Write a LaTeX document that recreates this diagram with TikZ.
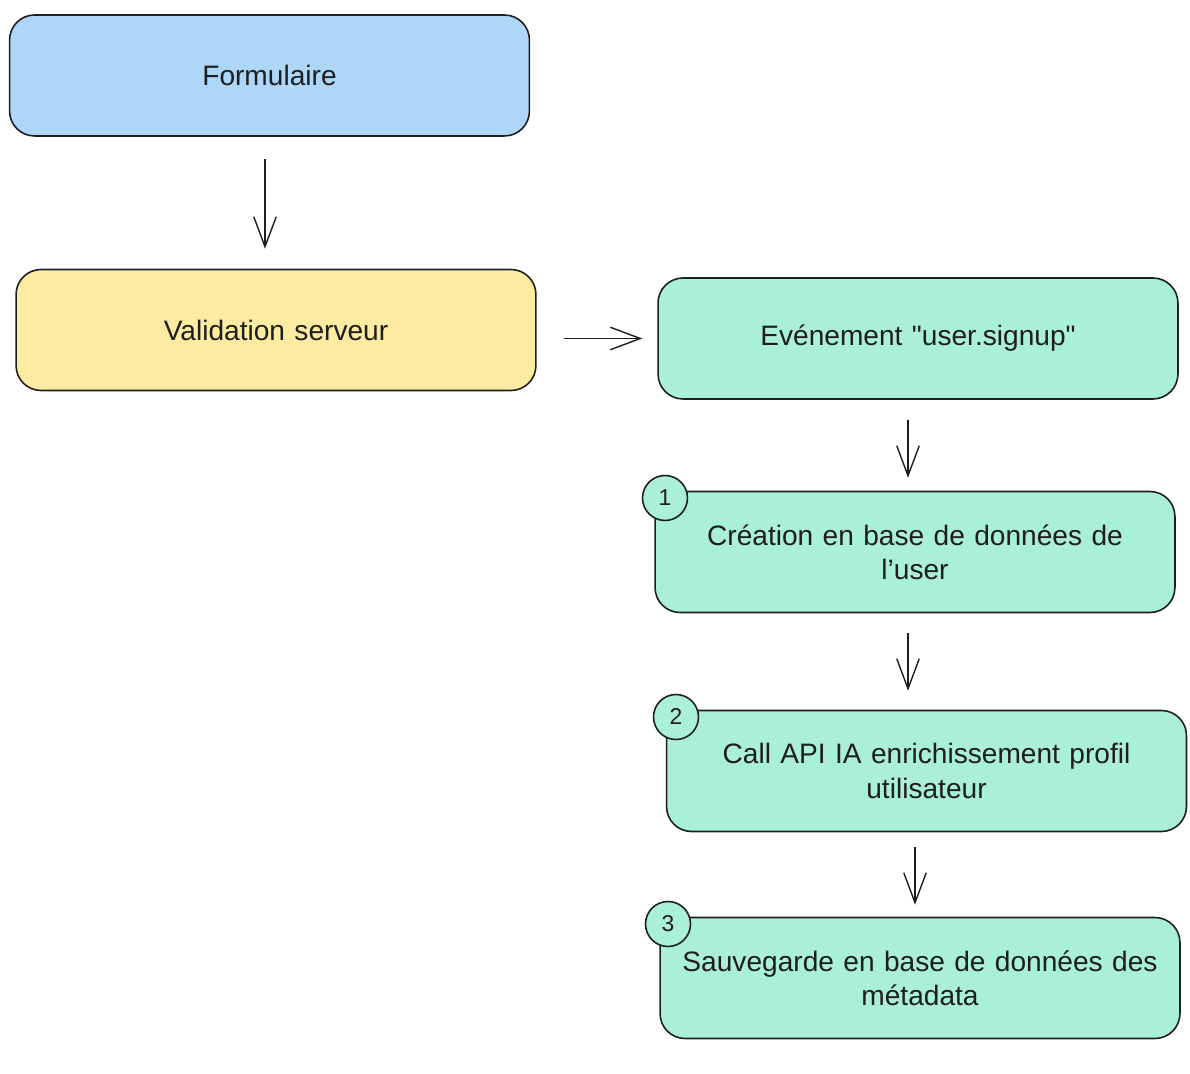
\documentclass[tikz,border=0pt]{standalone}
\usepackage{fontspec}
\setmainfont{Liberation Sans}
\usepackage{tikz}
\usetikzlibrary{arrows.meta}
\definecolor{formblue}{RGB}{174,214,249}
\definecolor{checkyellow}{RGB}{252,235,161}
\definecolor{stepgreen}{RGB}{170,240,216}
\definecolor{ink}{RGB}{30,30,30}
\tikzstyle{Box}=[rectangle, rounded corners=0.5cm, minimum width=10.4cm, minimum height=2.42cm, text width=10cm, align=center, draw=ink, line width=0.9pt, font=\fontsize{16}{19.5}\selectfont, text=ink]
\tikzstyle{Badge}=[circle, minimum size=0.9cm, inner sep=0pt, draw=ink, line width=0.9pt, fill=stepgreen, font=\fontsize{13}{15}\selectfont, text=ink]
\tikzstyle{Flow}=[draw=ink, line width=0.8pt, -{Straight Barb[length=0.6cm, width=0.45cm, line width=0.8pt]}]

\begin{document}
\begin{tikzpicture}[x=0.02cm, y=-0.02cm]
    \useasboundingbox (0,0) rectangle (1190,1074);
    \path
    (269.5,75.5) node[Box, fill=formblue] (form) {Formulaire}
    (276,330) node[Box, fill=checkyellow] (valid) {Validation serveur}
    (918,338.5) node[Box, fill=stepgreen] (event) {Evénement \textquotedbl user.signup\textquotedbl}
    (915,552) node[Box, fill=stepgreen] (create) {Création en base de données de\\ l'user}
    (926.5,771) node[Box, fill=stepgreen] (callapi) {Call API IA enrichissement profil\\ utilisateur}
    (920,978) node[Box, fill=stepgreen] (save) {Sauvegarde en base de données des\\ métadata};

    \path
    (665,498) node[Badge] (one) {1}
    (676,717) node[Badge] (two) {2}
    (668,924) node[Badge] (three) {3};

    \draw[Flow, shorten <=0.44cm, shorten >=0.4cm] ([xshift=-0.09cm]form.south) -- ([xshift=-0.09cm]form.south |- valid.north);
    \draw[Flow, shorten <=0.54cm, shorten >=0.3cm] (event.west -| valid.east) -- (event.west);
    \draw[Flow, shorten <=0.4cm, shorten >=0.26cm] ([xshift=-0.2cm]event.south) -- ([xshift=-0.2cm]event.south |- create.north);
    \draw[Flow, shorten <=0.4cm, shorten >=0.38cm] ([xshift=-0.14cm]create.south) -- ([xshift=-0.14cm]create.south |- callapi.north);
    \draw[Flow, shorten <=0.3cm, shorten >=0.24cm] ([xshift=-0.23cm]callapi.south) -- ([xshift=-0.23cm]callapi.south |- save.north);
\end{tikzpicture}
\end{document}
